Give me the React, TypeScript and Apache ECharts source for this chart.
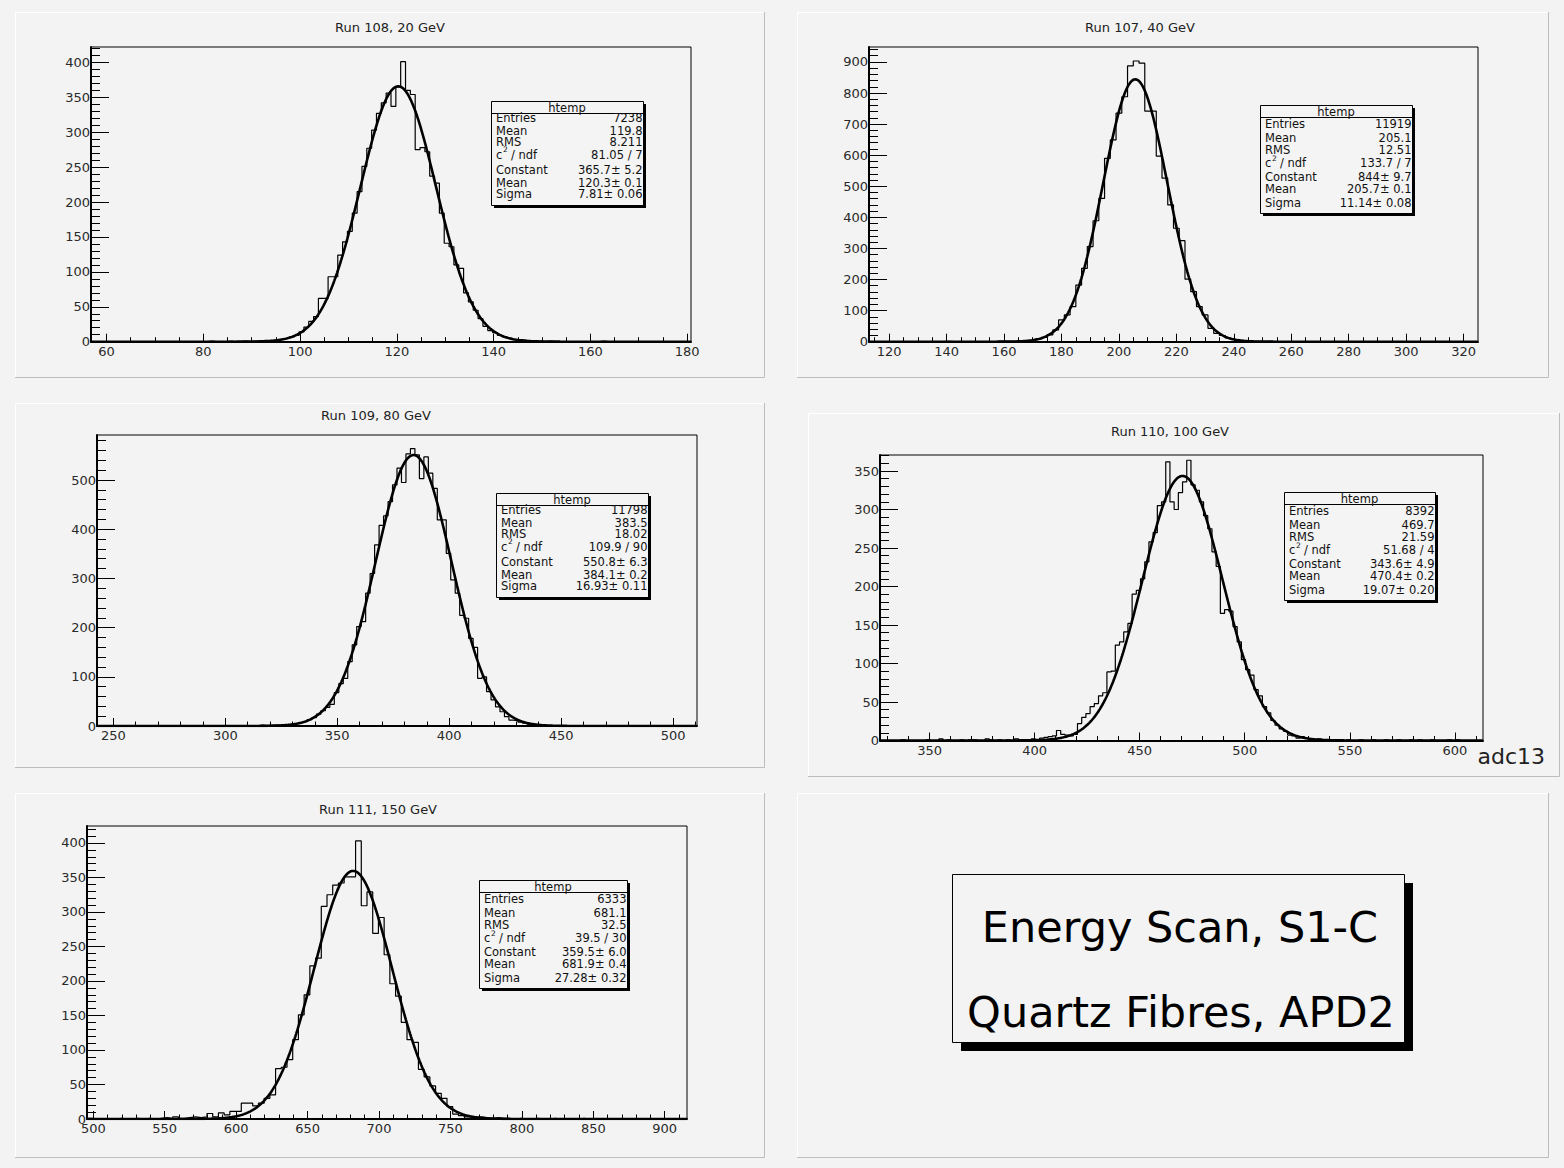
import React, { useEffect, useRef } from "react";
import * as echarts from "echarts";

const FONT = '"DejaVu Sans", Verdana, sans-serif';

// ---------------- Run 108, 20 GeV ----------------
const run108Title = "Run 108, 20 GeV";
const run108BinStart = 56.8;
const run108BinWidth = 1;
const run108Counts = [
  0, 0, 0, 0, 0, 0, 0, 0, 0, 0,
  0, 0, 0, 0, 0, 0, 0, 0, 0, 0,
  0, 0, 0, 0, 1, 0, 0, 0, 1, 0,
  0, 1, 0, 1, 1, 2, 1, 2, 3, 4,
  5, 7, 9, 14, 21, 29, 36, 62, 62, 93,
  93, 124, 143, 158, 184, 215, 251, 277, 303, 327,
  342, 356, 337, 365, 401, 360, 354, 275, 278, 272,
  237, 227, 184, 141, 136, 110, 105, 70, 57, 45,
  33, 22, 16, 13, 9, 7, 5, 3, 3, 2,
  1, 1, 1, 0, 1, 0, 0, 0, 0, 0,
  0, 0, 0, 0, 0, 1, 0, 0, 0, 0,
  0, 0, 0, 0, 0, 0, 0, 0, 0, 0,
  0, 0, 0, 0,
];
const run108Fit = [365.7, 120.3, 7.81];
const run108XRange = [56.8, 180.8];
const run108YMax = 422;
const run108XTicks = [60, 80, 100, 120, 140, 160, 180];
const run108YTicks = [0, 50, 100, 150, 200, 250, 300, 350, 400];
const run108Stats = ["7238", "119.8", "8.211", "81.05 / 7", "365.7± 5.2", "120.3± 0.1", "7.81± 0.06"];

// ---------------- Run 107, 40 GeV ----------------
const run107Title = "Run 107, 40 GeV";
const run107BinStart = 113;
const run107BinWidth = 2;
const run107Counts = [
  0, 0, 0, 0, 0, 0, 0, 0, 0, 0,
  0, 0, 0, 1, 0, 0, 0, 0, 0, 0,
  0, 0, 1, 1, 1, 1, 2, 3, 5, 9,
  14, 22, 38, 70, 86, 113, 182, 236, 306, 389,
  461, 590, 649, 735, 788, 887, 903, 896, 742, 742,
  597, 526, 440, 365, 325, 201, 161, 113, 86, 43,
  27, 20, 12, 7, 4, 2, 1, 1, 0, 1,
  0, 0, 0, 0, 0, 0, 0, 0, 0, 0,
  0, 0, 0, 0, 0, 0, 0, 0, 0, 0,
  0, 0, 0, 0, 0, 0, 0, 0, 0, 0,
  0, 0, 0, 0, 0, 0,
];
const run107Fit = [844, 205.7, 11.14];
const run107XRange = [113, 325];
const run107YMax = 948;
const run107XTicks = [120, 140, 160, 180, 200, 220, 240, 260, 280, 300, 320];
const run107YTicks = [0, 100, 200, 300, 400, 500, 600, 700, 800, 900];
const run107Stats = ["11919", "205.1", "12.51", "133.7 / 7", "844± 9.7", "205.7± 0.1", "11.14± 0.08"];

// ---------------- Run 109, 80 GeV ----------------
const run109Title = "Run 109, 80 GeV";
const run109BinStart = 242.7;
const run109BinWidth = 2;
const run109Counts = [
  0, 0, 0, 0, 0, 0, 0, 0, 0, 0,
  0, 0, 0, 1, 0, 0, 0, 0, 0, 0,
  0, 0, 1, 0, 0, 0, 1, 0, 1, 0,
  0, 1, 1, 0, 1, 1, 2, 1, 2, 2,
  2, 3, 3, 4, 5, 7, 9, 13, 17, 24,
  31, 38, 44, 68, 86, 97, 131, 165, 202, 212,
  270, 310, 368, 408, 427, 456, 490, 524, 495, 553,
  564, 551, 503, 547, 514, 483, 419, 419, 351, 297,
  270, 225, 219, 178, 160, 97, 100, 70, 53, 39,
  29, 19, 12, 11, 8, 6, 4, 3, 2, 2,
  1, 1, 1, 0, 1, 0, 0, 1, 0, 0,
  0, 0, 0, 0, 0, 0, 0, 0, 0, 0,
  0, 0, 0, 0, 0, 0, 0, 0, 0, 0,
  0, 0, 0, 0,
];
const run109Fit = [550.8, 384.1, 16.93];
const run109XRange = [242.7, 510.7];
const run109YMax = 591.5;
const run109XTicks = [250, 300, 350, 400, 450, 500];
const run109YTicks = [0, 100, 200, 300, 400, 500];
const run109Stats = ["11798", "383.5", "18.02", "109.9 / 90", "550.8± 6.3", "384.1± 0.2", "16.93± 0.11"];

// ---------------- Run 110, 100 GeV ----------------
const run110Title = "Run 110, 100 GeV";
const run110BinStart = 326.4;
const run110BinWidth = 2;
const run110Counts = [
  0, 0, 0, 0, 0, 1, 0, 0, 0, 0,
  0, 1, 0, 0, 2, 0, 1, 0, 0, 1,
  0, 1, 1, 0, 0, 2, 1, 0, 1, 0,
  1, 0, 2, 1, 0, 1, 2, 1, 3, 4,
  5, 6, 13, 8, 7, 6, 8, 22, 30, 35,
  44, 48, 58, 62, 89, 90, 124, 128, 141, 152,
  190, 195, 210, 232, 258, 270, 305, 310, 362, 310,
  300, 322, 336, 364, 332, 325, 310, 292, 275, 245,
  226, 165, 170, 168, 148, 128, 105, 92, 85, 66,
  58, 44, 36, 26, 20, 15, 12, 7, 6, 3,
  5, 3, 2, 1, 2, 0, 1, 1, 0, 1,
  0, 1, 0, 0, 1, 0, 0, 1, 0, 0,
  1, 0, 0, 1, 0, 0, 1, 0, 1, 0,
  0, 1, 0, 0, 0, 1, 0, 1, 0, 0,
  0, 0, 0,
];
const run110Fit = [343.6, 470.4, 19.07];
const run110XRange = [326.4, 613.4];
const run110YMax = 370.8;
const run110XTicks = [350, 400, 450, 500, 550, 600];
const run110YTicks = [0, 50, 100, 150, 200, 250, 300, 350];
const run110Stats = ["8392", "469.7", "21.59", "51.68 / 4", "343.6± 4.9", "470.4± 0.2", "19.07± 0.20"];
const run110AxisTitle = "adc13";

// ---------------- Run 111, 150 GeV ----------------
const run111Title = "Run 111, 150 GeV";
const run111BinStart = 495.6;
const run111BinWidth = 4;
const run111Counts = [
  1, 0, 0, 0, 0, 1, 0, 0, 1, 0,
  1, 0, 1, 2, 1, 3, 1, 2, 3, 2,
  3, 8, 3, 9, 6, 11, 11, 23, 23, 19,
  23, 30, 35, 73, 75, 86, 115, 151, 180, 222,
  233, 308, 325, 339, 342, 351, 351, 403, 309, 329,
  269, 292, 238, 196, 178, 140, 115, 111, 72, 61,
  48, 37, 30, 18, 7, 5, 3, 2, 3, 2,
  1, 2, 1, 1, 0, 1, 0, 0, 1, 0,
  0, 1, 0, 0, 0, 0, 1, 0, 0, 0,
  0, 0, 0, 0, 0, 0, 0, 0, 0, 0,
  0, 0, 0, 0, 0,
];
const run111Fit = [359.5, 681.9, 27.28];
const run111XRange = [495.6, 915.6];
const run111YMax = 424.6;
const run111XTicks = [500, 550, 600, 650, 700, 750, 800, 850, 900];
const run111YTicks = [0, 50, 100, 150, 200, 250, 300, 350, 400];
const run111Stats = ["6333", "681.1", "32.5", "39.5 / 30", "359.5± 6.0", "681.9± 0.4", "27.28± 0.32"];

const statLabels = ["Entries", "Mean", "RMS", "CHI", "Constant", "Mean", "Sigma"];
const statTitle = "htemp";
const noteLines = ["Energy Scan, S1-C", "Quartz Fibres, APD2"];

// ---------------- layout (not data) ----------------
const ROWS_A = [17, 29.5, 41, 53.5, 69, 81.5, 93];
const ROWS_B = [19, 32.5, 44.5, 58, 71.5, 84, 97.5];

const LAYOUTS = [
  { pad: [15, 12, 765, 378], titleX: 390, titleY: 27, grid: { left: 91, top: 47, width: 600, height: 294.7 }, xSplit: 6, xMinor: 4, ySplit: 8, yMinor: 5, box: { x: 491, y: 101, w: 152, h: 104, rows: ROWS_A } },
  { pad: [797, 12, 1549, 378], titleX: 1140, titleY: 27, grid: { left: 869, top: 47, width: 609, height: 294.7 }, xSplit: 10, xMinor: 4, ySplit: 9, yMinor: 5, box: { x: 1260, y: 105, w: 152, h: 108, rows: ROWS_B } },
  { pad: [15, 403, 765, 768], titleX: 376, titleY: 415, grid: { left: 97, top: 435, width: 600, height: 291 }, xSplit: 5, xMinor: 5, ySplit: 6, yMinor: 5, box: { x: 496, y: 493, w: 152, h: 104, rows: ROWS_A } },
  { pad: [808, 413, 1560, 777], titleX: 1170, titleY: 431, grid: { left: 880, top: 455, width: 603, height: 285.5 }, xSplit: 6, xMinor: 5, ySplit: 7, yMinor: 5, box: { x: 1284, y: 492, w: 151, h: 108, rows: ROWS_B } },
  { pad: [15, 793, 765, 1158], titleX: 378, titleY: 809, grid: { left: 87, top: 826, width: 600, height: 293 }, xSplit: 8, xMinor: 5, ySplit: 8, yMinor: 5, box: { x: 479, y: 880, w: 148, h: 108, rows: ROWS_B } },
];

const NOTE_PAD = [797, 793, 1549, 1158];
const NOTE_BOX = { x: 952, y: 874, w: 452, h: 168 };

const PANELS = [
  { title: run108Title, start: run108BinStart, bw: run108BinWidth, counts: run108Counts, fit: run108Fit, xr: run108XRange, ymax: run108YMax, xt: run108XTicks, yt: run108YTicks, stats: run108Stats },
  { title: run107Title, start: run107BinStart, bw: run107BinWidth, counts: run107Counts, fit: run107Fit, xr: run107XRange, ymax: run107YMax, xt: run107XTicks, yt: run107YTicks, stats: run107Stats },
  { title: run109Title, start: run109BinStart, bw: run109BinWidth, counts: run109Counts, fit: run109Fit, xr: run109XRange, ymax: run109YMax, xt: run109XTicks, yt: run109YTicks, stats: run109Stats },
  { title: run110Title, start: run110BinStart, bw: run110BinWidth, counts: run110Counts, fit: run110Fit, xr: run110XRange, ymax: run110YMax, xt: run110XTicks, yt: run110YTicks, stats: run110Stats },
  { title: run111Title, start: run111BinStart, bw: run111BinWidth, counts: run111Counts, fit: run111Fit, xr: run111XRange, ymax: run111YMax, xt: run111XTicks, yt: run111YTicks, stats: run111Stats },
];

function histPoints(start: number, bw: number, counts: number[]) {
  const pts: number[][] = counts.map((c, i) => [start + i * bw, c]);
  pts.push([start + counts.length * bw, counts[counts.length - 1]]);
  return pts;
}

// fitted gaussian: constant * exp(-0.5 ((x-mean)/sigma)^2), from the fit parameters shown in the stat box
function fitPoints(p: number[], xr: number[]) {
  const [c, m, s] = p;
  const n = 700;
  const pts: number[][] = [];
  for (let i = 0; i <= n; i++) {
    const x = xr[0] + ((xr[1] - xr[0]) * i) / n;
    pts.push([x, c * Math.exp(-0.5 * ((x - m) / s) ** 2)]);
  }
  return pts;
}

function padBevel(p: number[]) {
  const [x0, y0, x1, y1] = p;
  return [
    { type: "polyline", silent: true, z: 1, shape: { points: [[x0 + 0.5, y1], [x0 + 0.5, y0 + 0.5], [x1, y0 + 0.5]] }, style: { stroke: "#ffffff", lineWidth: 1, fill: null } },
    { type: "polyline", silent: true, z: 1, shape: { points: [[x1 - 0.5, y0], [x1 - 0.5, y1 - 0.5], [x0, y1 - 0.5]] }, style: { stroke: "#bdbdbd", lineWidth: 1, fill: null } },
  ];
}

function statBox(b: any, values: string[]) {
  const els: any[] = [];
  const fs = 11.5;
  els.push({ type: "rect", z: 50, silent: true, shape: { x: b.x + 3, y: b.y + 3, width: b.w, height: b.h }, style: { fill: "#000" } });
  els.push({ type: "rect", z: 51, silent: true, shape: { x: b.x + 0.5, y: b.y + 0.5, width: b.w, height: b.h }, style: { fill: "#f4f4f4", stroke: "#000", lineWidth: 1 } });
  els.push({ type: "line", z: 52, silent: true, shape: { x1: b.x, y1: b.y + 12.5, x2: b.x + b.w, y2: b.y + 12.5 }, style: { stroke: "#000", lineWidth: 1 } });
  els.push({ type: "text", z: 53, silent: true, x: b.x + b.w / 2, y: b.y + 6.5, style: { text: statTitle, fill: "#111", fontSize: 11.5, fontFamily: FONT, align: "center", verticalAlign: "middle" } });
  statLabels.forEach((lab, i) => {
    const y = b.y + b.rows[i];
    if (lab === "CHI") {
      els.push({ type: "text", z: 53, silent: true, x: b.x + 5, y, style: { text: "c", fill: "#111", fontSize: fs, fontFamily: FONT, align: "left", verticalAlign: "middle" } });
      els.push({ type: "text", z: 53, silent: true, x: b.x + 12, y: y - 5, style: { text: "2", fill: "#111", fontSize: 7.5, fontFamily: FONT, align: "left", verticalAlign: "middle" } });
      els.push({ type: "text", z: 53, silent: true, x: b.x + 20, y, style: { text: "/ ndf", fill: "#111", fontSize: fs, fontFamily: FONT, align: "left", verticalAlign: "middle" } });
    } else {
      els.push({ type: "text", z: 53, silent: true, x: b.x + 5, y, style: { text: lab, fill: "#111", fontSize: fs, fontFamily: FONT, align: "left", verticalAlign: "middle" } });
    }
    els.push({ type: "text", z: 53, silent: true, x: b.x + b.w - 0.5, y, style: { text: values[i], fill: "#111", fontSize: fs, fontFamily: FONT, align: "right", verticalAlign: "middle" } });
  });
  return els;
}

function buildOption() {
  const grids: any[] = [];
  const xAxes: any[] = [];
  const yAxes: any[] = [];
  const series: any[] = [];
  const graphics: any[] = [];

  PANELS.forEach((p, i) => {
    const L = LAYOUTS[i];
    grids.push({ ...L.grid, show: true, borderColor: "#000", borderWidth: 1, backgroundColor: "transparent", containLabel: false });
    xAxes.push({
      type: "value", gridIndex: i, min: p.xr[0], max: p.xr[1], splitNumber: L.xSplit,
      axisLine: { show: true, onZero: false, lineStyle: { color: "#000", width: 2 } },
      axisTick: { show: true, inside: true, length: 8, lineStyle: { color: "#000", width: 1 }, customValues: p.xt },
      minorTick: { show: true, splitNumber: L.xMinor, length: 4.5, lineStyle: { color: "#000", width: 1 } },
      axisLabel: { show: true, customValues: p.xt, margin: 3, color: "#2a2a2a", fontFamily: FONT, fontSize: 13 },
      splitLine: { show: false }, minorSplitLine: { show: false },
    });
    yAxes.push({
      type: "value", gridIndex: i, min: 0, max: p.ymax, splitNumber: L.ySplit,
      axisLine: { show: true, onZero: false, lineStyle: { color: "#000", width: 2 } },
      axisTick: { show: true, inside: true, length: 18, lineStyle: { color: "#000", width: 1 }, customValues: p.yt },
      minorTick: { show: true, splitNumber: L.yMinor, length: 9, lineStyle: { color: "#000", width: 1 } },
      axisLabel: { show: true, customValues: p.yt, margin: 1, color: "#2a2a2a", fontFamily: FONT, fontSize: 13 },
      splitLine: { show: false }, minorSplitLine: { show: false },
    });
    series.push({
      type: "line", xAxisIndex: i, yAxisIndex: i, step: "end", showSymbol: false, symbol: "none", silent: true, z: 3,
      lineStyle: { color: "#000", width: 1.2 }, data: histPoints(p.start, p.bw, p.counts),
    });
    series.push({
      type: "line", xAxisIndex: i, yAxisIndex: i, showSymbol: false, symbol: "none", silent: true, z: 4,
      lineStyle: { color: "#000", width: 2.6 }, data: fitPoints(p.fit, p.xr),
    });
    graphics.push(...padBevel(L.pad));
    graphics.push({ type: "text", z: 10, silent: true, x: L.titleX, y: L.titleY, style: { text: p.title, fill: "#222", fontSize: 13, fontFamily: FONT, align: "center", verticalAlign: "middle" } });
    graphics.push(...statBox(L.box, p.stats));
  });

  // axis title on the Run 110 pad
  graphics.push({ type: "text", z: 10, silent: true, x: 1545, y: 756, style: { text: run110AxisTitle, fill: "#222", fontSize: 22, fontFamily: FONT, align: "right", verticalAlign: "middle" } });

  // note pad
  graphics.push(...padBevel(NOTE_PAD));
  graphics.push({ type: "rect", z: 20, silent: true, shape: { x: NOTE_BOX.x + 9, y: NOTE_BOX.y + 9, width: NOTE_BOX.w, height: NOTE_BOX.h }, style: { fill: "#000" } });
  graphics.push({ type: "rect", z: 21, silent: true, shape: { x: NOTE_BOX.x + 0.5, y: NOTE_BOX.y + 0.5, width: NOTE_BOX.w, height: NOTE_BOX.h }, style: { fill: "#f3f3f3", stroke: "#000", lineWidth: 1 } });
  graphics.push({ type: "text", z: 22, silent: true, x: NOTE_BOX.x + NOTE_BOX.w / 2 + 2, y: 927, style: { text: noteLines[0], fill: "#000", fontSize: 43, fontFamily: FONT, align: "center", verticalAlign: "middle" } });
  graphics.push({ type: "text", z: 22, silent: true, x: NOTE_BOX.x + NOTE_BOX.w / 2 + 3, y: 1012, style: { text: noteLines[1], fill: "#000", fontSize: 43, fontFamily: FONT, align: "center", verticalAlign: "middle" } });

  return {
    animation: false,
    backgroundColor: "#f3f3f3",
    grid: grids,
    xAxis: xAxes,
    yAxis: yAxes,
    series,
    graphic: { elements: graphics },
  };
}

export default function App() {
  const ref = useRef<HTMLDivElement>(null);
  useEffect(() => {
    document.body.style.margin = "0";
    const chart = echarts.init(ref.current as HTMLDivElement, null, { renderer: "svg", width: 1564, height: 1168 });
    chart.setOption(buildOption() as any);
    return () => {
      chart.dispose();
    };
  }, []);
  return <div ref={ref} style={{ position: "absolute", left: 0, top: 0, width: 1564, height: 1168 }} />;
}
